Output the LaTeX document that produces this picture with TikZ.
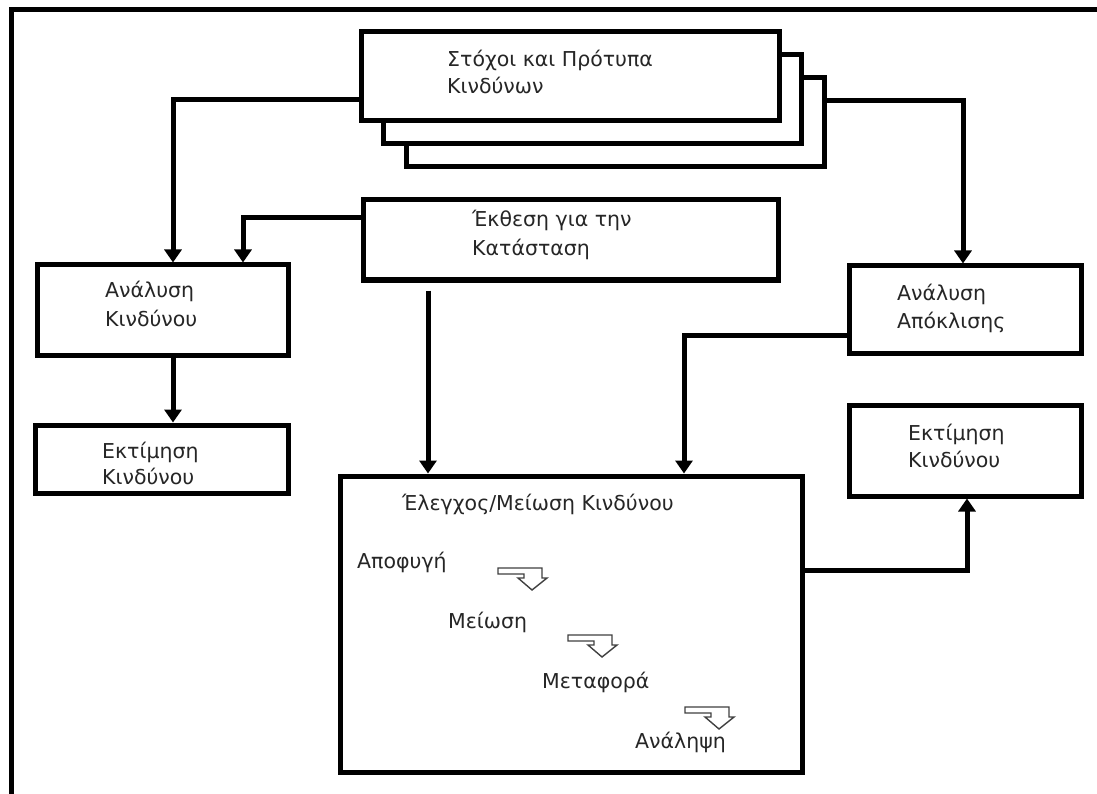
\documentclass[tikz,border=0pt]{standalone}
\usepackage{fontspec}
\setmainfont{DejaVu Sans}
\usetikzlibrary{arrows.meta}
\begin{document}
\begin{tikzpicture}[x=1pt,y=-1pt,
  box/.style={draw, line width=5pt, fill=white, rectangle, inner sep=0pt},
  conn/.style={line width=5pt},
  arr/.style={conn, -{Triangle[length=13pt,width=17pt]}},
  lbl/.style={anchor=base west, inner sep=0pt, text=black!85, font=\fontsize{20.5}{27}\selectfont},
  turnarrow/.pic={\draw[line width=1.4pt, draw=black!75, fill=white, line join=miter]
      (0,0) -- (44,0) -- (44,10) -- (49,10) -- (34,22) -- (20,10) -- (26,10)
      -- (26,6) -- (0,6) -- cycle;}]
\useasboundingbox (0,0) rectangle (1097,794);
\fill[white] (0,0) rectangle (1097,794);

% outer frame (open to the right and bottom)
\draw[line width=5pt] (11,794) -- (11,10) -- (1097,10);

% stacked document boxes
\node[box, minimum width=418pt, minimum height=89pt] (goal3) at (615.5,122) {};
\node[box, minimum width=418pt, minimum height=89pt] (goal2) at (592.5,99.5) {};
\node[box, minimum width=418pt, minimum height=89pt] (goal1) at (570.5,76.5) {};

% process boxes
\node[box, minimum width=415pt, minimum height=80pt]  (report)    at (570.5,240) {};
\node[box, minimum width=251pt, minimum height=90pt]  (analysis)  at (162.5,310) {};
\node[box, minimum width=253pt, minimum height=68pt]  (estL)      at (161.5,459) {};
\node[box, minimum width=232pt, minimum height=87pt]  (deviation) at (965,309.5) {};
\node[box, minimum width=232pt, minimum height=91pt]  (estR)      at (965,450.5) {};
\node[box, minimum width=462pt, minimum height=296pt] (control)   at (571,624) {};

% labels
\node[lbl] (goalA) at (447,67) {Στόχοι και Πρότυπα};
\node[lbl] (goalB) at (447,94) {Κινδύνων};
\node[lbl] (repA) at (472,227) {Έκθεση για την};
\node[lbl] (repB) at (472,255) {Κατάσταση};
\node[lbl] (anaA) at (105,298) {Ανάλυση};
\node[lbl] (anaB) at (105,326) {Κινδύνου};
\node[lbl] (estLA) at (102,458) {Εκτίμηση};
\node[lbl] (estLB) at (102,484) {Κινδύνου};
\node[lbl] (devA) at (897,300) {Ανάλυση};
\node[lbl] (devB) at (897,328) {Απόκλισης};
\node[lbl] (estRA) at (908,440) {Εκτίμηση};
\node[lbl] (estRB) at (908,467) {Κινδύνου};
\node[lbl] (ctrl) at (402,510) {Έλεγχος/Μείωση Κινδύνου};
\node[lbl] (avoid) at (357,568) {Αποφυγή};
\node[lbl] (reduce) at (448,628) {Μείωση};
\node[lbl] (transfer) at (542,688) {Μεταφορά};
\node[lbl] (accept) at (635,748) {Ανάληψη};

% step arrows inside the control box
\pic (t1) at (498,568) {turnarrow};
\pic (t2) at (568,635) {turnarrow};
\pic (t3) at (685,707) {turnarrow};

% connectors
\draw[arr] ([yshift=-23.5pt]goal1.west) -| ([xshift=10.5pt]analysis.north);
\draw[arr] ([yshift=22pt]report.west) -| ([xshift=80.5pt]analysis.north);
\draw[arr] ([yshift=21pt]goal3.east) -| ([xshift=-2pt]deviation.north);
\draw[arr] ([xshift=-142.5pt,yshift=-8pt]report.south) coordinate (rs) -- (rs |- control.north);
\draw[arr] ([yshift=-25.5pt]deviation.west) -| ([xshift=113pt]control.north);
\draw[arr] ([yshift=54pt]control.east) -| ([xshift=2pt]estR.south);
\draw[arr] ([xshift=10.5pt]analysis.south) coordinate (as) -- (as |- estL.north);
\end{tikzpicture}
\end{document}
